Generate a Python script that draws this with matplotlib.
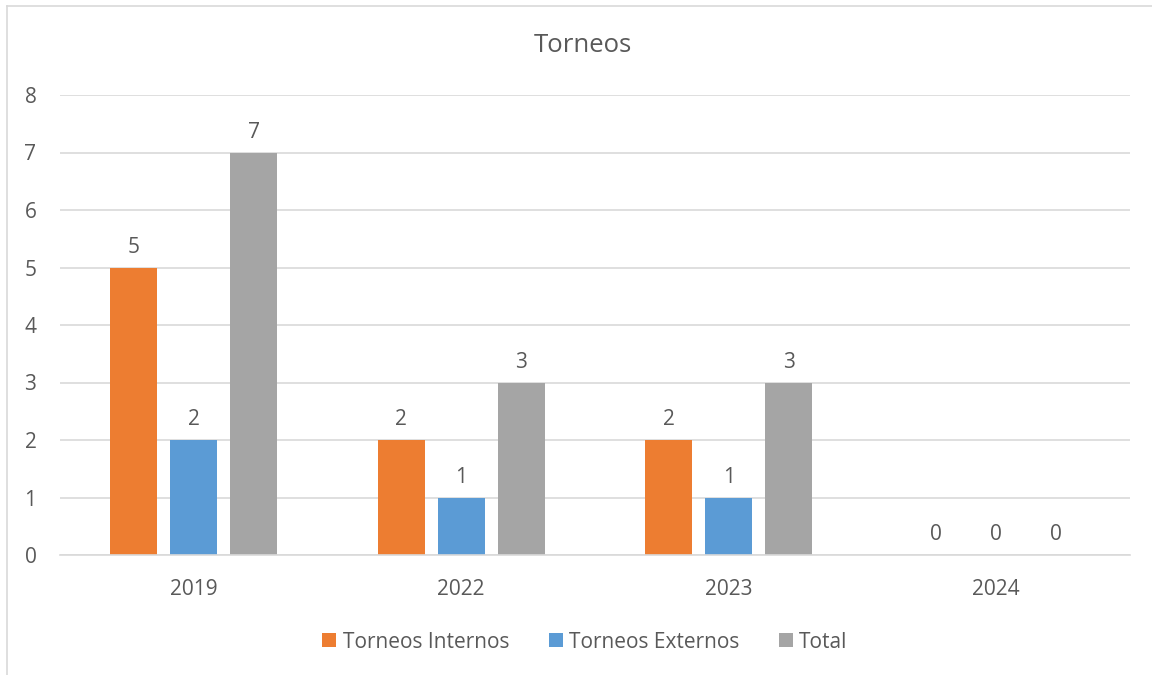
import matplotlib.pyplot as plt
import numpy as np
from matplotlib.lines import Line2D

plt.rcParams['font.family'] = ['Open Sans', 'DejaVu Sans']

years = ['2019', '2022', '2023', '2024']
internos = [5, 2, 2, 0]
externos = [2, 1, 1, 0]
total = [7, 3, 3, 0]

series = [('Torneos Internos', internos, '#ED7D31'),
          ('Torneos Externos', externos, '#5B9BD5'),
          ('Total', total, '#A5A5A5')]

txt = '#595959'
fig = plt.figure(figsize=(11.52, 6.75), dpi=100)
ax = fig.add_axes([60 / 1152, 1 - 555 / 675, 1070 / 1152, 460 / 675])

x = np.arange(len(years))
w = 0.176
step = 0.224
for i, (name, vals, col) in enumerate(series):
    bars = ax.bar(x + (i - 1) * step, vals, w, color=col, label=name, zorder=3)
    ax.bar_label(bars, padding=7, fontsize=15, color=txt)

ax.set_xlim(-0.5, len(years) - 0.5)
ax.set_ylim(0, 8)
ax.set_yticks(range(0, 9))
ax.set_xticks(x)
ax.set_xticklabels(years)
ax.tick_params(axis='both', length=0, labelsize=15, labelcolor=txt)
ax.tick_params(axis='x', pad=17)
ax.tick_params(axis='y', pad=17)
ax.grid(axis='y', color='#D9D9D9', linewidth=1.2, zorder=0)
for s in ['top', 'right', 'left']:
    ax.spines[s].set_visible(False)
ax.spines['bottom'].set_color('#D9D9D9')
ax.spines['bottom'].set_linewidth(1.2)
ax.spines['bottom'].set_zorder(4)

fig.text(583 / 1152, 1 - 46 / 675, 'Torneos', ha='center', va='center',
         fontsize=18.5, color=txt)

fig.legend(loc='center', bbox_to_anchor=(585 / 1152, 1 - 642 / 675), ncol=3,
           frameon=False, fontsize=15, labelcolor=txt, handlelength=0.67,
           handleheight=0.67, handletextpad=0.3, columnspacing=1.9)

# chart border (only top and left edges visible in the crop)
fig.add_artist(Line2D([7 / 1152, 7 / 1152], [0, 1 - 6 / 675],
                      transform=fig.transFigure, color='#D9D9D9', linewidth=1.2))
fig.add_artist(Line2D([7 / 1152, 1], [1 - 6 / 675, 1 - 6 / 675],
                      transform=fig.transFigure, color='#D9D9D9', linewidth=1.2))

fig.savefig('out.png', dpi=100)
